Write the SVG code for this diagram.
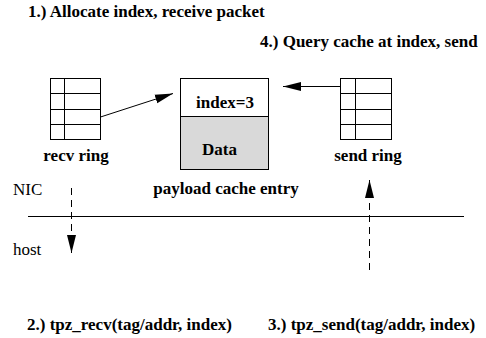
<svg xmlns="http://www.w3.org/2000/svg" width="486" height="338" viewBox="0 0 486 338">
  <style>
    text { font-family: 'Liberation Serif', serif; font-size: 17px; fill: #000; }
    .b { font-weight: bold; }
    .box { fill: #fff; stroke: #000; stroke-width: 1; }
    .ln { stroke: #000; stroke-width: 1; fill: none; }
    .dash { stroke: #000; stroke-width: 1; fill: none; stroke-dasharray: 7 5; }
  </style>
  <defs>
    <marker id="ah" markerUnits="userSpaceOnUse" markerWidth="18" markerHeight="10" refX="18" refY="5" orient="auto">
      <path d="M0,0.5 L18,5 L0,9.5 z" fill="#000"/>
    </marker>
  </defs>
  <rect width="486" height="338" fill="#fff"/>

  <g id="step1"><text class="b" x="28" y="17">1.) Allocate index, receive packet</text></g>
  <g id="step4"><text class="b" x="260" y="47">4.) Query cache at index, send</text></g>

  <g id="recv-ring">
    <rect class="box" x="50.5" y="78.5" width="50" height="61"/>
    <path class="ln" d="M50.5,93.5 H100.5 M50.5,109.5 H100.5 M50.5,124.5 H100.5 M64.5,78.5 V139.5"/>
    <text class="b" x="76" y="161" text-anchor="middle">recv ring</text>
  </g>

  <g id="cache-entry">
    <rect class="box" x="180.5" y="78.5" width="88" height="38"/>
    <rect x="180.5" y="116.5" width="88" height="53" fill="#d9d9d9" stroke="#000" stroke-width="1"/>
    <text class="b" x="225" y="108" text-anchor="middle">index=3</text>
    <text class="b" x="202" y="155">Data</text>
    <text class="b" x="226" y="194" text-anchor="middle">payload cache entry</text>
  </g>

  <g id="send-ring">
    <rect class="box" x="340.5" y="78.5" width="51" height="61"/>
    <path class="ln" d="M340.5,93.5 H391.5 M340.5,109.5 H391.5 M340.5,124.5 H391.5 M355.5,78.5 V139.5"/>
    <text class="b" x="368" y="161" text-anchor="middle">send ring</text>
  </g>

  <g id="boundary">
    <line class="ln" x1="28" y1="216.5" x2="464" y2="216.5"/>
    <text x="13" y="195">NIC</text>
    <text x="13" y="255">host</text>
  </g>

  <g id="step2"><text class="b" x="27" y="330">2.) tpz_recv(tag/addr, index)</text></g>
  <g id="step3"><text class="b" x="268" y="330">3.) tpz_send(tag/addr, index)</text></g>

  <g id="connectors">
    <line class="ln" x1="100.5" y1="117" x2="173" y2="93.5" marker-end="url(#ah)"/>
    <line class="ln" x1="340.5" y1="86.5" x2="283" y2="86.5" marker-end="url(#ah)"/>
    <line class="dash" x1="71.5" y1="188" x2="71.5" y2="253" marker-end="url(#ah)"/>
    <line class="dash" x1="369.5" y1="270" x2="369.5" y2="180" marker-end="url(#ah)"/>
  </g>
</svg>
